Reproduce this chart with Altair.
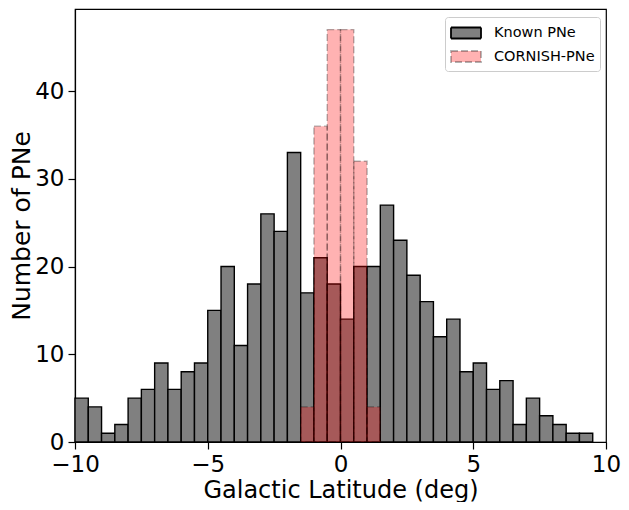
import altair as alt
import pandas as pd

# Bin starts (deg), bin width 0.5
known_starts = [-10.0, -9.5, -9.0, -8.5, -8.0, -7.5, -7.0, -6.5, -6.0, -5.5,
                -5.0, -4.5, -4.0, -3.5, -3.0, -2.5, -2.0, -1.5, -1.0, -0.5,
                0.0, 0.5, 1.0, 1.5, 2.0, 2.5, 3.0, 3.5, 4.0, 4.5,
                5.0, 5.5, 6.0, 6.5, 7.0, 7.5, 8.0, 8.5, 9.0, 9.5]
known_counts = [5, 4, 1, 2, 5, 6, 9, 6, 8, 9,
                15, 20, 11, 18, 26, 24, 33, 17, 21, 18,
                14, 20, 20, 27, 23, 19, 16, 12, 14, 8,
                9, 6, 7, 2, 5, 3, 2, 1, 1, 0]

cornish_starts = [-1.5, -1.0, -0.5, 0.0, 0.5, 1.0]
cornish_counts = [4, 36, 47, 47, 32, 4]

bin_width = 0.5
series_names = ["Known PNe", "CORNISH-PNe"]

rows = []
for s, c in zip(known_starts, known_counts):
    if c > 0:
        rows.append({"series": series_names[0], "start": s, "end": s + bin_width, "count": c})
for s, c in zip(cornish_starts, cornish_counts):
    rows.append({"series": series_names[1], "start": s, "end": s + bin_width, "count": c})
df = pd.DataFrame(rows)
df["order"] = df["series"].map({series_names[0]: 0, series_names[1]: 1})

font = "DejaVu Sans"

chart = alt.Chart(df).mark_bar(strokeWidth=1.4).encode(
    x=alt.X("start:Q",
            scale=alt.Scale(domain=[-10, 10], nice=False, zero=False, padding=0),
            axis=alt.Axis(values=[-10, -5, 0, 5, 10], title="Galactic Latitude (deg)",
                          labelExpr="replace(datum.label, '-', '−')",
                          labelFlush=False, titleFontSize=24,
                          titlePadding=2)),
    x2="end:Q",
    y=alt.Y("count:Q", stack=None,
            scale=alt.Scale(domain=[0, 49.35], nice=False, padding=0),
            axis=alt.Axis(values=[0, 10, 20, 30, 40], title="Number of PNe",
                          titleFontSize=25, titlePadding=0)),
    y2=alt.datum(0),
    fill=alt.Fill("series:N",
                  scale=alt.Scale(domain=series_names,
                                  range=["#808080", "rgba(255,0,0,0.3)"]),
                  legend=alt.Legend(title=None)),
    stroke=alt.Stroke("series:N",
                      scale=alt.Scale(domain=series_names,
                                      range=["#000000", "rgba(0,0,0,0.3)"]),
                      legend=alt.Legend(title=None)),
    strokeDash=alt.StrokeDash("series:N",
                              scale=alt.Scale(domain=series_names,
                                              range=[[1, 0], [7, 3]]),
                              legend=alt.Legend(title=None)),
    order=alt.Order("order:Q"),
).properties(
    width=531,
    height=433,
    autosize=alt.AutoSizeParams(type="none"),
    padding={"left": 67, "top": 1, "right": 15, "bottom": 60},
).configure_view(
    stroke="black", strokeWidth=1.2
).configure_axis(
    grid=False,
    labelFont=font, titleFont=font,
    labelFontSize=23,
    titleFontWeight="normal",
    labelColor="black", titleColor="black",
    domainColor="black", tickColor="black",
    tickSize=7, tickWidth=1.2, domainWidth=1.2,
    labelPadding=4,
).configure_legend(
    orient="none", legendX=370, legendY=8,
    padding=5, strokeColor="#cccccc", fillColor="white", cornerRadius=3,
    labelFont=font, labelFontSize=14.5, labelColor="black",
    symbolType="M-1,-0.55H2V0.55H-1Z", symbolSize=400,
    symbolStrokeWidth=1.8, labelOffset=22, rowPadding=2.5,
)

chart.save("out.html", embed_options={"renderer": "svg", "actions": False})
